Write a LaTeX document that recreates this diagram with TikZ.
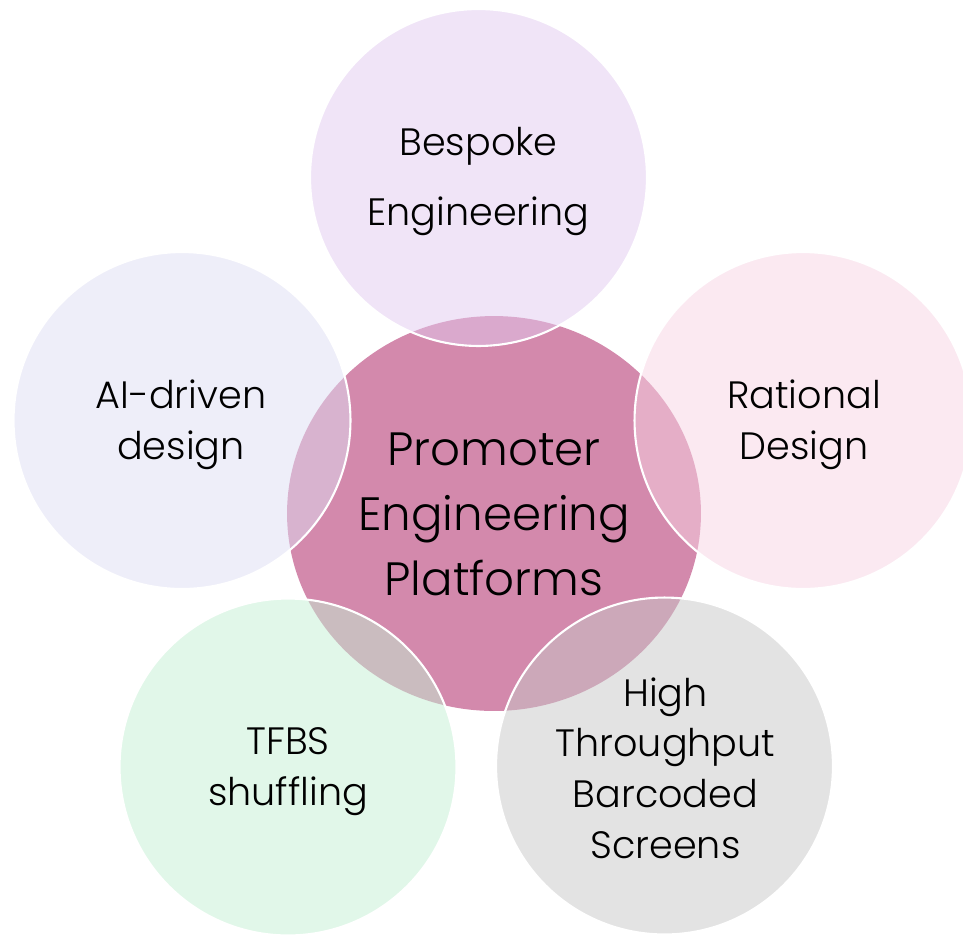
\documentclass[tikz,border=0pt]{standalone}
\usepackage{fontspec}
\setmainfont{Poppins}[UprightFont=* Light]
\usetikzlibrary{shapes.geometric}
\definecolor{hubpink}{RGB}{211,137,172}
\definecolor{lilac}{RGB}{225,201,239}
\definecolor{blush}{RGB}{247,211,227}
\definecolor{lavender}{RGB}{221,221,243}
\definecolor{mint}{RGB}{195,239,211}
\definecolor{greyish}{RGB}{199,199,199}
\tikzset{
    petal/.style={circle, draw=white, line width=1.2pt, fill opacity=0.5,
        minimum size=6.74cm, inner sep=0pt, outer sep=0pt},
    petaltext/.style={align=center, inner sep=0pt, font=\fontsize{21.7}{28.9}\selectfont},
}
\begin{document}
\begin{tikzpicture}[x=0.02cm, y=-0.02cm]
        \useasboundingbox (0,0) rectangle (963,934);
        \node[ellipse, fill=hubpink, minimum width=8.28cm, minimum height=7.9cm, inner sep=0pt] (hub) at (494,513.5) {};
        \node[petal, fill=lilac] (bespoke) at (478.5,177.5) {};
        \node[petal, fill=blush] (rational) at (803,420.5) {};
        \node[petal, fill=lavender] (ai) at (182,420.5) {};
        \node[petal, fill=mint] (tfbs) at (288,767) {};
        \node[petal, fill=greyish] (screens) at (664.5,766) {};
        % labels
        \node[align=center, inner sep=0pt, font=\fontsize{26.6}{36.9}\selectfont] (hub-text) at (494,514.5) {Promoter\\Engineering\\Platforms};
        \node[petaltext, font=\fontsize{21.7}{40.3}\selectfont] (bespoke-text) at (478.5,181.5) {Bespoke\\Engineering};
        \node[petaltext] (rational-text) at (804,425) {Rational\\Design};
        \node[petaltext] (ai-text) at (181,425) {AI-driven\\design};
        \node[petaltext] (tfbs-text) at (288,771.5) {TFBS\\shuffling};
        \node[petaltext] (screens-text) at (665.5,768) {High\\Throughput\\Barcoded\\Screens};
    \end{tikzpicture}
\end{document}
